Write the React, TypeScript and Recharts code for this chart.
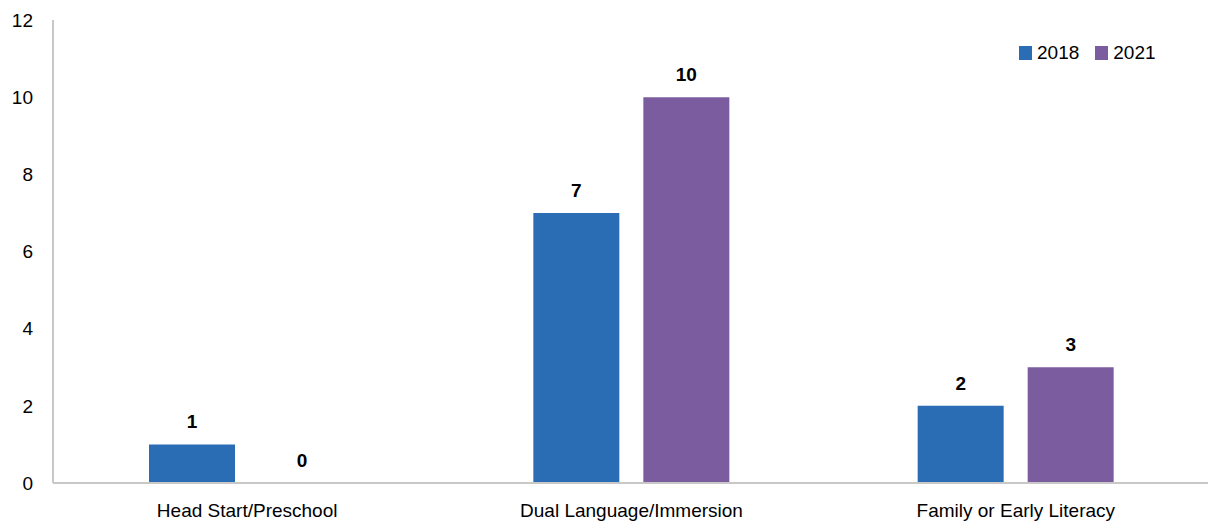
import { BarChart, Bar, XAxis, YAxis, LabelList } from 'recharts';

const categories = ['Head Start/Preschool', 'Dual Language/Immersion', 'Family or Early Literacy'];
const values2018 = [1, 7, 2];
const values2021 = [0, 10, 3];
const yTicks = [0, 2, 4, 6, 8, 10, 12];

const data = categories.map((name, i) => ({ name, y2018: values2018[i], y2021: values2021[i] }));

const FONT = '"Liberation Sans", Arial, sans-serif';
const BLUE = '#2B6DB5';
const PURPLE = '#7B5C9F';

const legendItems = [
  { label: '2018', color: BLUE },
  { label: '2021', color: PURPLE },
];

function ChartLegend() {
  return (
    <div
      style={{
        position: 'absolute', top: 42, left: 1019,
        display: 'flex', alignItems: 'center', fontFamily: FONT, fontSize: 19, color: '#000',
      }}
    >
      {legendItems.map((it) => (
        <div key={it.label} style={{ display: 'flex', alignItems: 'center', marginRight: 16 }}>
          <div style={{ width: 13, height: 14, background: it.color, marginRight: 5 }} />
          <span>{it.label}</span>
        </div>
      ))}
    </div>
  );
}

// value labels drawn above each bar, including zero-height ones
function ValueLabel(props: any) {
  const { x, y, width, value } = props;
  if (value == null) return null;
  return (
    <text
      x={Number(x) + Number(width) / 2}
      y={Number(y) - 16}
      textAnchor="middle"
      fill="#000"
      fontSize={19}
      fontWeight="bold"
      fontFamily={FONT}
    >
      {value}
    </text>
  );
}

// keep a zero bar in the layout so its label is still drawn
const tinyForZero = (v: any) => (v === 0 ? 0.01 : 0);

export default function App() {
  return (
    <div style={{ position: 'absolute', left: 0, top: 0, width: 1208, height: 525, background: '#fff' }}>
      <BarChart
        width={1208}
        height={525}
        data={data}
        margin={{ top: 20, right: 0, left: 0, bottom: 0 }}
        barSize={86}
        barGap={24}
      >
        <XAxis
          dataKey="name"
          axisLine={{ stroke: '#C8C8C8', strokeWidth: 2 }}
          tickLine={false}
          tickSize={0}
          tickMargin={21}
          height={42}
          padding={{ left: 2, right: 0 }}
          tick={{ fill: '#000', fontSize: 19, fontFamily: FONT }}
        />
        <YAxis
          domain={[0, 12]}
          ticks={yTicks}
          width={53}
          axisLine={{ stroke: '#C8C8C8', strokeWidth: 2 }}
          tickLine={false}
          tickSize={0}
          tickMargin={20}
          tick={{ fill: '#000', fontSize: 19, fontFamily: FONT }}
        />
        <Bar dataKey="y2018" name="2018" fill={BLUE} minPointSize={tinyForZero} isAnimationActive={false}>
          <LabelList dataKey="y2018" content={ValueLabel} />
        </Bar>
        <Bar dataKey="y2021" name="2021" fill={PURPLE} minPointSize={tinyForZero} isAnimationActive={false}>
          <LabelList dataKey="y2021" content={ValueLabel} />
        </Bar>
      </BarChart>
      <ChartLegend />
    </div>
  );
}
